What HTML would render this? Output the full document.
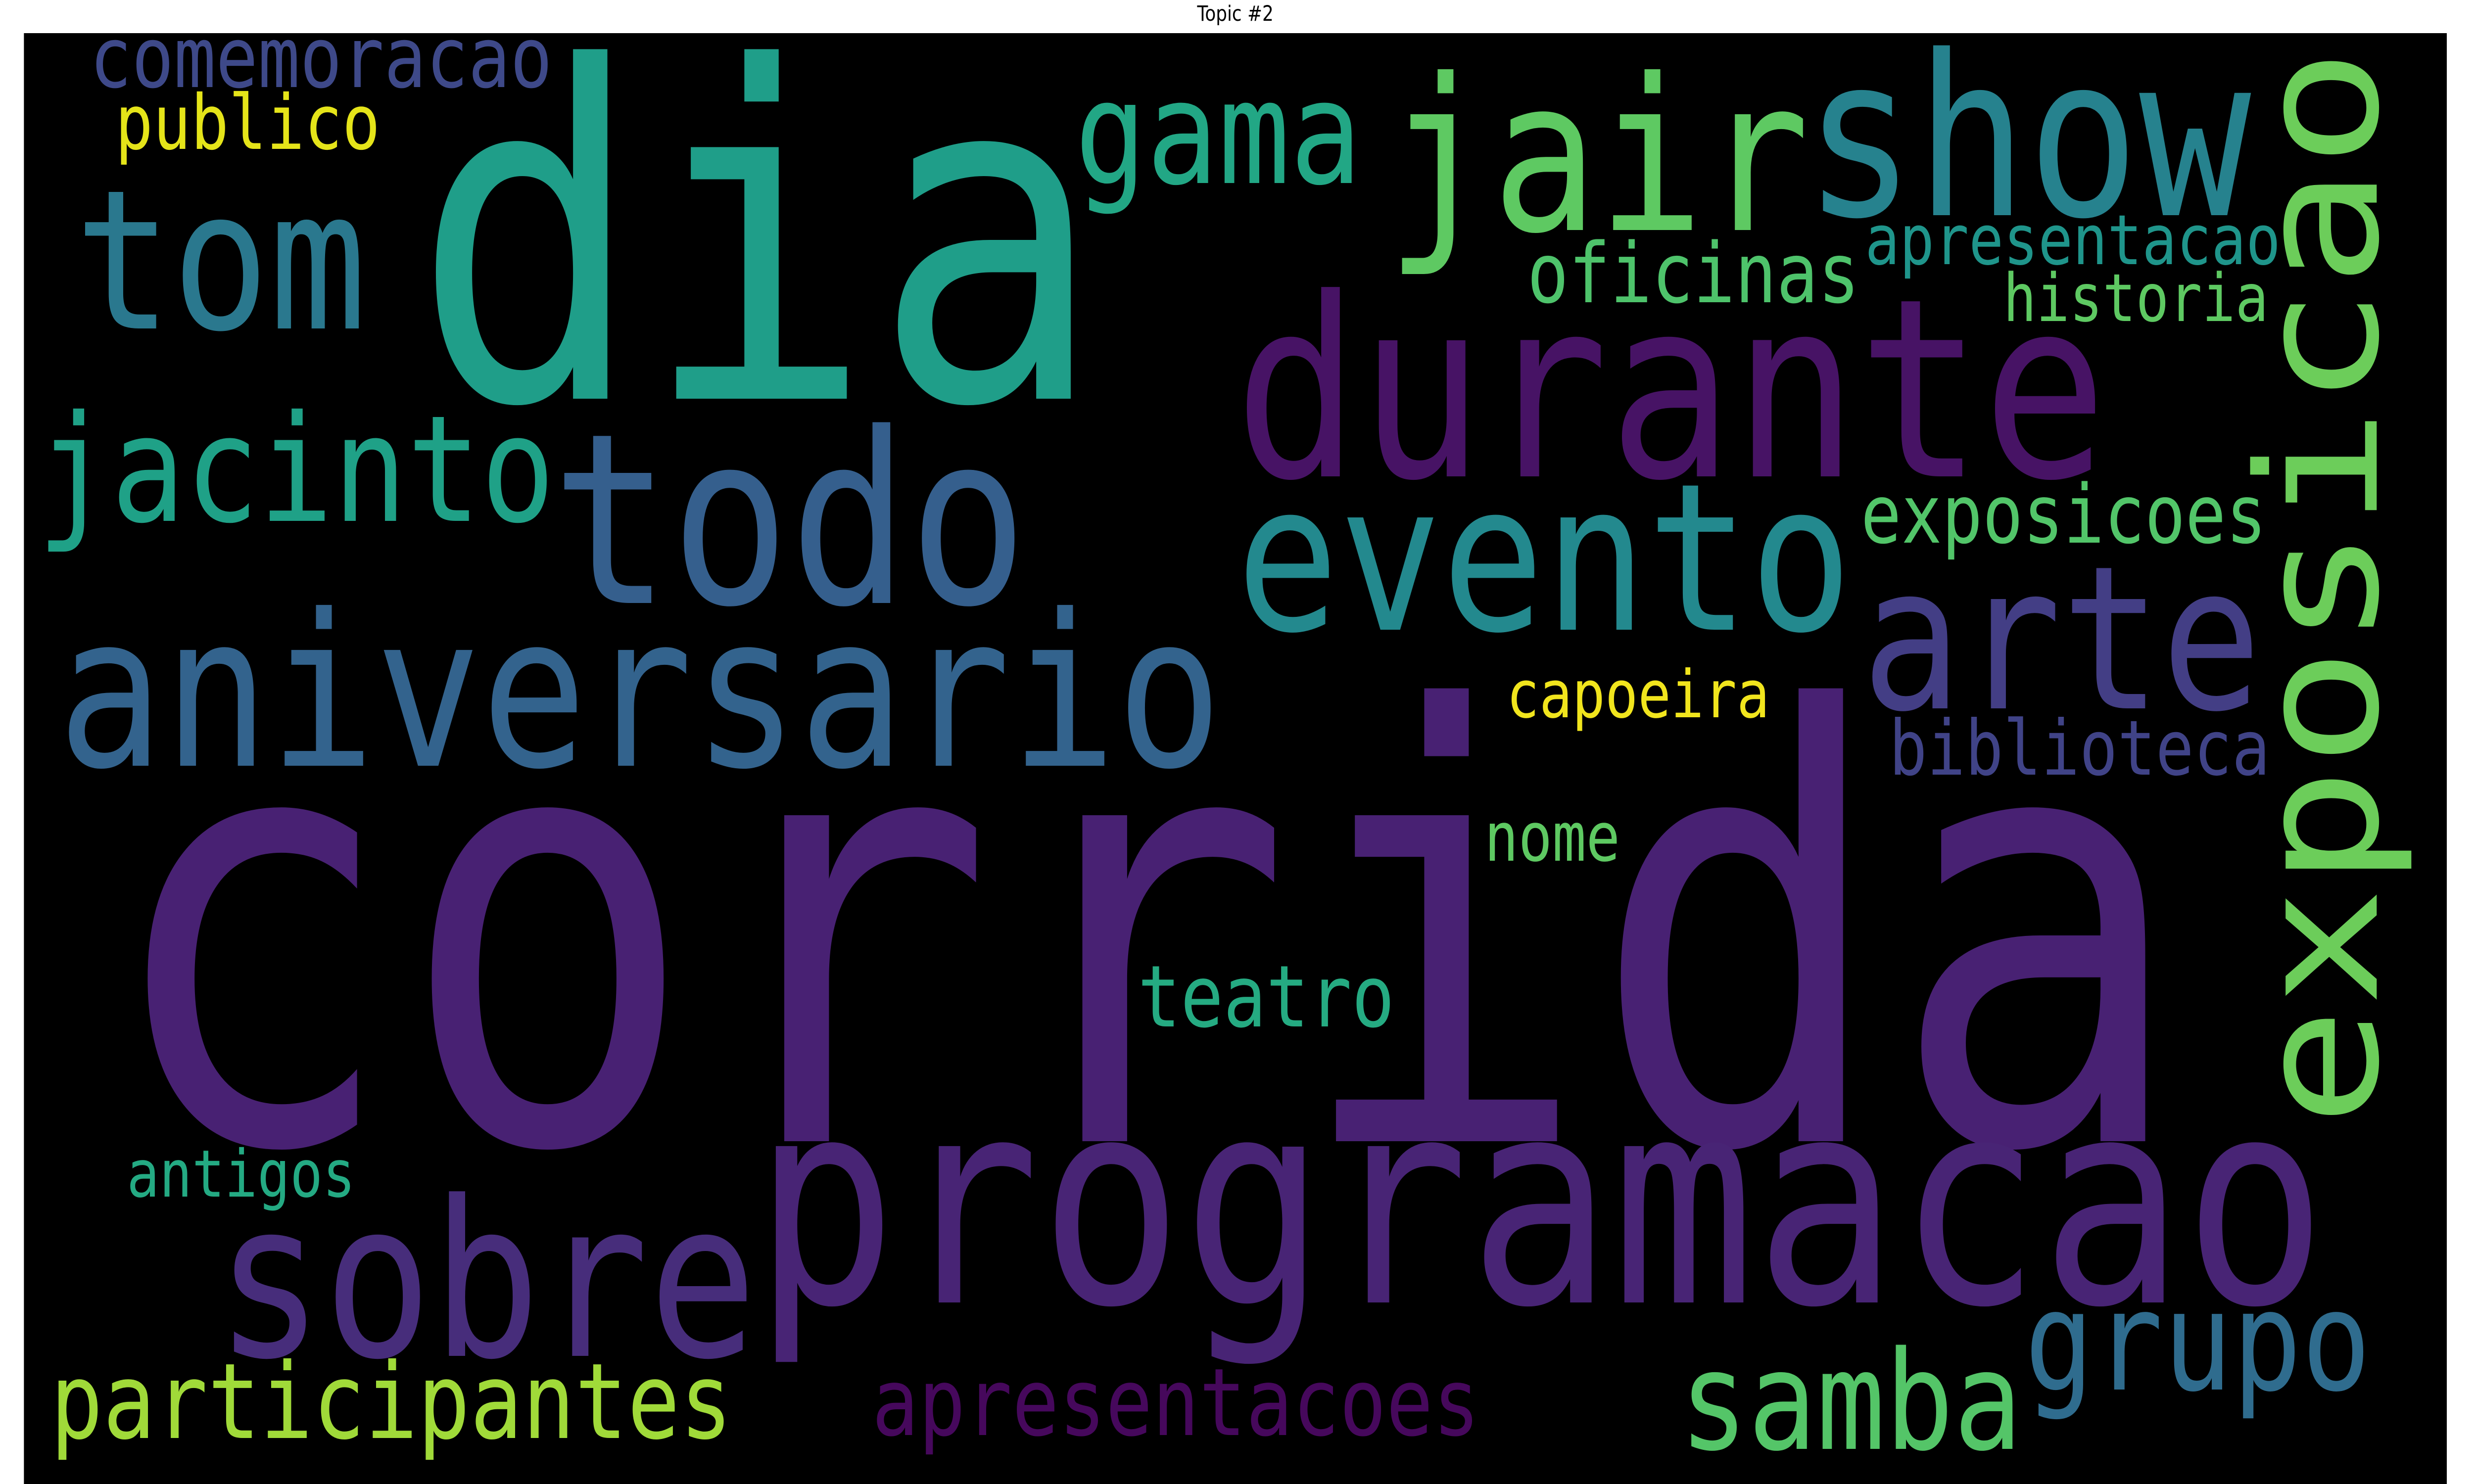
<!DOCTYPE html>
<html>
<head>
<meta charset="utf-8">
<style>
  html,body{margin:0;padding:0;background:#fff;width:100%;height:100%;overflow:hidden;}
  svg{display:block;overflow:hidden;width:100vw;height:100vh;}
</style>
</head>
<body>
<svg id="chart" viewBox="0 0 6000 3000" preserveAspectRatio="none" xmlns="http://www.w3.org/2000/svg">
  <rect x="0" y="0" width="6000" height="3000" fill="#ffffff"/>
  <text x="2996" y="42" font-family="DejaVu Sans, Liberation Sans, sans-serif" font-size="43" text-anchor="middle" fill="#000">Topic #2</text>
  <rect x="58" y="67" width="5876" height="2933" fill="#000000"/>
  <g id="words"></g>
</svg>
<script>
// Word cloud data: word, font size (weight), colour, left position, baseline, orientation
const words = ["corrida","dia","programacao","durante","show","sobre","todo","jair","aniversario","evento","arte","exposicao","tom","jacinto","gama","grupo","samba","participantes","apresentacoes","teatro","comemoracao","oficinas","exposicoes","publico","biblioteca","apresentacao","nome","historia","capoeira","antigos"];
const sizes = [1205,930,578,504,452,438,481,428,428,415,404,404,393,299,290,280,277,212,189,173,170,168,164,153,154,140,137,134,133,132];
const colors = ["#482173","#1f9e89","#482475","#471365","#26828e","#472d7b","#355f8d","#5ec962","#33638d","#23898e","#433e85","#6ccd5a","#2a788e","#1fa187","#22a785","#2f6c8e","#54c568","#a0da39","#46085c","#25ab82","#3e4989","#4ec36b","#52c569","#e5e419","#404387","#1f958b","#5ec962","#5ec962","#f1e51d","#24aa83"];
const lefts = [304,1048,1857,3019,4397,544,1362,3383,161,3019,4535,2258,201,105,2621,4924,4087,133,2124,2768,226,3712,4521,287,4589,4530,3607,4865,3660,314];
const baselines = [2307,806,2633,963,435,2741,1219,465,1548,1273,1432,5764,664,1053,370,2809,2929,2907,2901,2075,176,611,1097,301,1566,534,1740,649,1450,2419];
const vertical = [0,0,0,0,0,0,0,0,0,0,0,1,0,0,0,0,0,0,0,0,0,0,0,0,0,0,0,0,0,0];

const g = document.getElementById('words');
const NS = 'http://www.w3.org/2000/svg';
for (let i = 0; i < words.length; i++) {
  const t = document.createElementNS(NS, 'text');
  const fs = sizes[i];
  const bear = 0.05 * fs;
  t.setAttribute('font-family', 'DejaVu Sans Mono, Liberation Mono, monospace');
  t.setAttribute('font-size', fs);
  t.setAttribute('fill', colors[i]);
  t.setAttribute('textLength', (words[i].length * 0.6 * fs).toFixed(1));
  t.setAttribute('lengthAdjust', 'spacingAndGlyphs');
  if (vertical[i]) {
    const bx = baselines[i], by = lefts[i] + bear;
    t.setAttribute('x', 0);
    t.setAttribute('y', 0);
    t.setAttribute('transform', 'translate(' + bx + ',' + by + ') rotate(-90)');
  } else {
    t.setAttribute('x', lefts[i] - bear);
    t.setAttribute('y', baselines[i]);
  }
  t.textContent = words[i];
  
  
  g.appendChild(t);
}
</script>
</body>
</html>
